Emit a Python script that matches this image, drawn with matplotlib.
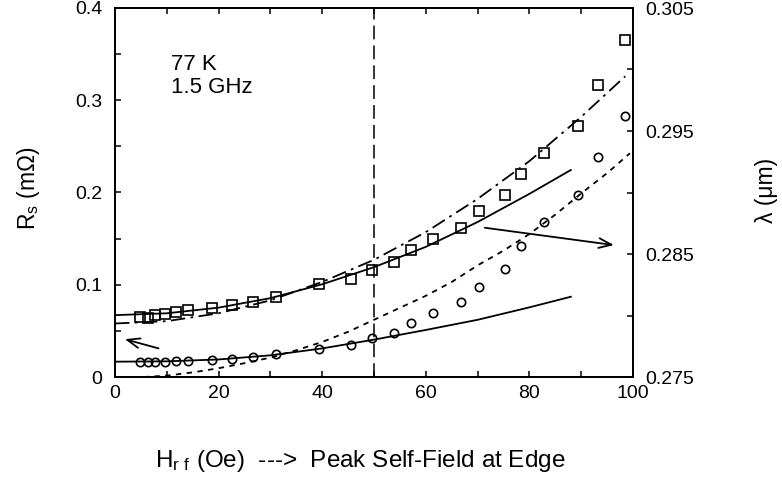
import matplotlib
matplotlib.use("Agg")
import matplotlib.pyplot as plt
from matplotlib.ticker import MultipleLocator, FormatStrFormatter

plt.rcParams["font.family"] = ["Liberation Sans", "DejaVu Sans"]
plt.rcParams["mathtext.default"] = "regular"

# measured field points (shared by both data sets)
h_rf = [4.8, 6.3, 7.8, 9.6, 11.7, 14.1, 18.8, 22.6, 26.6, 31.1, 39.3, 45.5,
        49.6, 53.9, 57.1, 61.4, 66.8, 70.3, 75.2, 78.4, 82.9, 89.3, 93.2, 98.5]

# surface resistance R_s (mOhm), circles, left axis
rs_meas = [0.0166, 0.0166, 0.0166, 0.0166, 0.0173, 0.0175, 0.0180, 0.0195,
           0.0213, 0.0249, 0.0300, 0.0347, 0.0420, 0.0480, 0.0580, 0.0690,
           0.0810, 0.0980, 0.1167, 0.1420, 0.1680, 0.1970, 0.2388, 0.2830]

# penetration depth lambda (um), squares, right axis
lam_meas = [0.27990, 0.27977, 0.28004, 0.28010, 0.28029, 0.28045, 0.28063,
            0.28085, 0.28108, 0.28148, 0.28256, 0.28295, 0.28370, 0.28438,
            0.28535, 0.28618, 0.28715, 0.28850, 0.28978, 0.29148, 0.29319,
            0.29540, 0.29878, 0.30238]

# model curves
h_lam_solid = [0, 10, 20, 30, 40, 50, 60, 70, 80, 88]
lam_solid = [0.28003, 0.28018, 0.28064, 0.28141, 0.28254, 0.28393, 0.28558,
             0.28760, 0.28989, 0.29183]

h_lam_dashdot = [0, 10, 20, 30, 40, 50, 60, 70, 80, 90, 98.5]
lam_dashdot = [0.27935, 0.27954, 0.28018, 0.28123, 0.28273, 0.28453, 0.28678,
               0.28948, 0.29255, 0.29615, 0.29945]

h_rs_solid = [0, 10, 20, 30, 40, 50, 60, 70, 80, 88]
rs_solid = [0.0166, 0.0170, 0.0190, 0.0235, 0.0310, 0.0405, 0.0510, 0.0620,
            0.0755, 0.0870]

h_rs_dotted = [5.5, 10, 15, 20, 25, 30, 35, 40, 45, 50, 55, 60, 65, 70, 75,
               80, 85, 90, 95, 99.4]
rs_dotted = [0.0, 0.0015, 0.005, 0.0095, 0.015, 0.021, 0.029, 0.038, 0.049,
             0.062, 0.075, 0.088, 0.103, 0.121, 0.137, 0.155, 0.176, 0.199,
             0.221, 0.2425]

H_EDGE = 50

fig = plt.figure(figsize=(7.82, 4.90), dpi=100)
ax = fig.add_axes([115 / 782, 1 - 377 / 490, 518 / 782, 369 / 490])
ax2 = ax.twinx()

ax.set_xlim(0, 100)
ax.set_ylim(0, 0.4)
ax2.set_ylim(0.275, 0.305)

ax.axvline(H_EDGE, color="k", lw=1.1, dashes=(9, 4))

ax.plot(h_rs_solid, rs_solid, color="k", lw=1.3)
ax.plot(h_rs_dotted, rs_dotted, color="k", lw=1.3, dashes=(3, 3))
ax.plot(h_rf, rs_meas, "o", ms=6, mfc="none", mec="k", mew=1.2)

ax2.plot(h_lam_solid, lam_solid, color="k", lw=1.3)
ax2.plot(h_lam_dashdot, lam_dashdot, color="k", lw=1.3, dashes=(8, 3, 1.5, 3))
ax2.plot(h_rf, lam_meas, "s", ms=6.5, mfc="none", mec="k", mew=1.2)

arrow = dict(arrowstyle="->,head_length=0.9,head_width=0.35", lw=1.3,
             color="k", shrinkA=0, shrinkB=0)
ax.annotate("", xy=(1.9, 0.041), xytext=(8.4, 0.031), arrowprops=arrow)
ax.annotate("", xy=(96.3, 0.143), xytext=(71.4, 0.1618), arrowprops=arrow)

ax.text(10.9, 0.3328, "77 K", fontsize=16, va="baseline")
ax.text(10.9, 0.3075, "1.5 GHz", fontsize=16, va="baseline")

# ticks
ax.xaxis.set_major_locator(MultipleLocator(20))
ax.xaxis.set_minor_locator(MultipleLocator(10))
ax.yaxis.set_major_locator(MultipleLocator(0.1))
ax.yaxis.set_minor_locator(MultipleLocator(0.05))
ax.yaxis.set_major_formatter(FormatStrFormatter("%g"))
ax2.yaxis.set_minor_locator(MultipleLocator(0.005))
ax2.yaxis.set_major_formatter(FormatStrFormatter("%.3f"))
ax2.set_yticks([0.275, 0.285, 0.295, 0.305])

ax.tick_params(axis="x", which="both", direction="in", top=True, length=4,
               width=1.1, labelsize=14, pad=6)
ax.tick_params(axis="y", which="both", direction="in", right=False, length=4,
               width=1.1, labelsize=14, pad=9)
ax2.tick_params(axis="y", which="both", direction="in", length=4, width=1.1,
                labelsize=14, pad=9)

for a in (ax, ax2):
    for s in a.spines.values():
        s.set_linewidth(1.3)

fig.text(28 / 782, 1 - 188 / 490, r"R$_s$ (mΩ)", rotation=90, fontsize=16.5,
         ha="center", va="center")
fig.text(767 / 782, 1 - 190 / 490, "λ (μm)", rotation=90, fontsize=16.5,
         ha="center", va="center")
fig.text(155 / 782, 1 - 467 / 490, r"H$_{r\ f}$ (Oe)  --->  Peak Self-Field at Edge",
         fontsize=17.5, ha="left", va="baseline")

fig.savefig("out.png", dpi=100)
